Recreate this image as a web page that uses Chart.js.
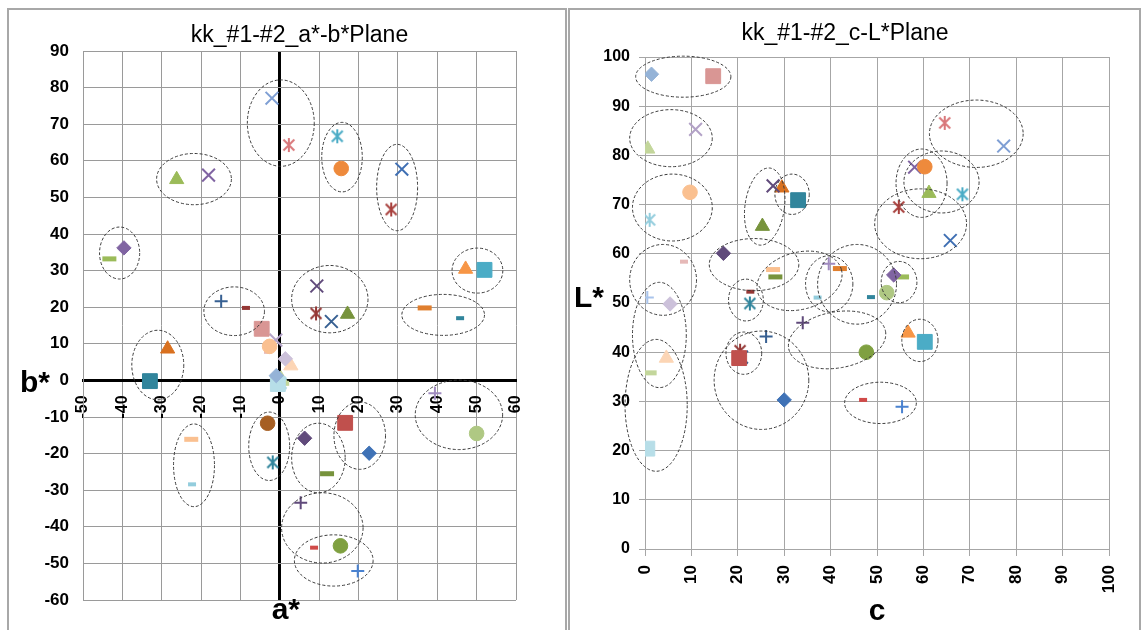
<!DOCTYPE html>
<html><head><meta charset="utf-8">
<script src="https://cdn.jsdelivr.net/npm/chart.js@4.4.1/dist/chart.umd.min.js"></script>
<style>
html,body{margin:0;padding:0;background:#fff;width:1142px;height:630px;overflow:hidden}
.panel{position:absolute;border:2px solid #a8a8a8;box-sizing:border-box}
#p1{left:7px;top:8px;width:560px;height:624px}
#p2{left:568px;top:8px;width:573px;height:624px}
.cv{position:absolute;top:0}
#c1{left:0}
#c2{left:569px}
</style></head><body>
<div class="panel" id="p1"></div><div class="panel" id="p2"></div>
<canvas class="cv" id="c1" width="566" height="630"></canvas>
<canvas class="cv" id="c2" width="571" height="630"></canvas>
<script>
// ---------- data (one point per sample) ----------
const seriesNames = ['P01','P02','P03','P04','P05','P06','P07','P08','P09','P10','P11','P12','P13','P14','P15','P16','P17','P18','P19','P20','P21','P22','P23','P24','P25','P26','P27','P28','P29','P30','P31','P32','P33','P34','P35','P36','P37','P38','P39','P40','P41','P42','P43','P44','P45','P46','P47','P48'];
const aStar = [-2.0, 2.3, 14.6, 15.6, 31.0, 28.3, -26.2, -18.1, -39.6, -43.3, 47.2, 52.0, 9.4, 9.2, 13.1, 17.2, 36.8, 45.8, -14.9, -8.6, -4.6, -2.6, -1.0, 1.4, 2.8, -0.9, -0.5, 0.3, 0.3, -0.2, 0.6, -3.0, -33.0, -28.5, -3.1, -1.8, 6.3, 16.6, 22.7, 12.0, -22.5, -22.3, 39.4, 50.0, 5.3, 8.7, 15.4, 19.8];
const bStar = [77.1, 64.3, 66.7, 57.9, 57.7, 46.7, 54.9, 56.1, 36.2, 33.2, 30.4, 30.2, 25.8, 18.3, 16.1, 18.1, 19.8, 17.0, 21.6, 19.8, 14.1, 9.3, 11.0, 5.9, 4.0, 1.3, -1.0, -0.8, 0.4, 0.4, -0.8, 7.8, -0.2, 8.6, -11.7, -22.4, -15.8, -11.6, -19.9, -25.5, -16.1, -28.4, -3.5, -14.5, -33.4, -45.7, -45.2, -52.1];
const chroma = [77.3, 64.6, 68.4, 60.3, 65.8, 54.7, 61.2, 58.1, 53.6, 55.4, 56.7, 60.3, 27.6, 20.5, 20.8, 25.3, 42.0, 48.7, 26.1, 22.7, 14.7, 9.7, 10.9, 5.4, 4.6, 1.4, 0.5, 1.0, 0.6, 0.5, 1.0, 8.4, 33.0, 29.5, null, 22.6, 16.9, 20.3, 30.0, 28.1, 27.6, 37.2, 39.6, 52.1, 34.0, 47.0, 47.7, 55.4];
const lightness = [81.9, 86.6, 72.1, 77.7, 62.7, 69.5, 72.3, 77.6, 55.7, 55.3, 43.9, 42.1, 73.8, 40.3, 39.0, 65.6, 57.0, 51.2, 43.2, 52.3, 96.1, 72.5, 85.3, 49.8, 38.8, 96.5, 20.4, 66.9, 81.3, 51.1, 35.8, 58.4, 70.9, 73.4, null, 49.9, 60.1, 38.8, 30.3, 55.3, 56.8, 51.1, 58.0, 52.1, 46.0, 30.3, 40.0, 28.9];

// marker styles (kept apart from the values)
const markerShape = ['X','star','star','circle','X','star','tri','X','diamond','dash','tri','rect','X','star','X','tri','dash','dashS','plus','dashS','rect','circle','X','diamond','tri','diamond','rect','star','tri','plus','dash','dashS','rect','tri','circle','star','diamond','rect','diamond','dash','dash','dashS','plus','circle','plus','dashS','circle','plus'];
const markerColor = ['#7F9FD4','#D9777A','#4BACC6','#EE8A3C','#3F6FB3','#A8403D','#9BBB59','#8064A2','#8064A2','#9BBB59','#F79646','#4BACC6','#604A7B','#953735','#376092','#77933C','#E07F2E','#31859C','#376092','#953735','#D99694','#FAC090','#B3A2C7','#CCC1DA','#FCD5B5','#95B3D7','#B7DEE8','#93CDDD','#C3D69B','#A9C4EB','#C3D69B','#E6B9B8','#31859C','#D9711F','#A65E22','#31859C','#604A7B','#C0504D','#3F72B6','#77933C','#FAC090','#93CDDD','#A08BC0','#AFC883','#604A7B','#D04A48','#7FA040','#4A82D0'];
const drawOnTop = ['P38'];

// group outlines (dashed ellipses) in data units: [centre x, centre y, radius x, radius y, tilt deg]
const groupsAB = [[0.25,70.3,8.5,11.8,0],[15.8,61,5.15,9.5,0],[29.8,52.7,5.2,11.8,0],[-21.8,55,9.5,7,0],[-40.7,34.8,5.1,7.1,0],[50.2,30,6.45,6.15,0],[41.5,17.9,10.5,5.6,0],[12.7,22.2,9.7,9.2,0],[-11.6,18.9,7.7,6.65,0],[-31,4.2,6.6,9.5,0],[45.5,-9.4,11.1,9.5,0],[-21.8,-23.2,5.2,11.3,0],[-2.7,-18,5.2,9.35,0],[20.3,-15.1,6.55,9.2,0],[9.8,-21.2,6.8,9.5,0],[10.8,-40.3,10.35,9.6,0],[13.7,-49.2,10,7,0]];
const groupsCL = [[8.25,96,10.26,4.17,0],[5.6,83.5,8.9,5.8,0],[5.9,69.4,8.6,6.8,0],[25.8,69.6,4.25,7.9,8],[31.7,72.1,3.7,4.1,0],[71.4,84.4,10.1,6.85,0],[59.6,74.35,5.5,6.95,0],[63.9,74.6,8.1,6.3,0],[59.4,66.1,9.9,7.1,0],[3.9,54.7,7.2,7.2,0],[3.1,43.5,5.8,10.7,0],[2.4,29.2,6.7,13.4,0],[23.5,57.8,9.65,5.3,0],[33.3,54.5,9.35,5.8,-15],[21.75,50.6,3.75,4.25,0],[39.7,53.9,5.1,5.7,0],[45.7,53.8,8.5,8.1,0],[54.75,54.25,3.85,4.2,0],[21.3,39.8,3.85,4.3,0],[25.1,34.3,10.2,10,0],[41.4,42.5,10.6,5.7,-10],[59.25,42.4,3.9,4.3,0],[50.75,29.7,7.73,4.2,0]];

const titleAB = 'kk_#1-#2_a*-b*Plane';
const titleCL = 'kk_#1-#2_c-L*Plane';

// ---------- rendering ----------
const FONT = "'Liberation Sans', Arial, sans-serif";
const SHAPES = {
  X:{style:'crossRot', r:9, bw:2},
  star:{style:'asterisk', r:7, bw:2},
  plus:{style:'cross', r:6.5, bw:2},
  circle:{style:'circle', r:7.3, bw:1},
  tri:{style:'triangle', r:8.2, bw:1},
  rect:{style:'rect', r:10.5, bw:1},
  diamond:{style:'rectRot', r:7.2, bw:1},
  dash:{style:'line', r:7, bw:5},
  dashS:{style:'line', r:4, bw:4}
};
// Excel-like six-spoke asterisk marker image
function asteriskImage(color, r, bw){
  const s = Math.ceil(2*r + bw + 2), c = s/2, d = r*0.78;
  const cv = document.createElement('canvas'); cv.width = s; cv.height = s;
  const g = cv.getContext('2d'); g.strokeStyle = color; g.lineWidth = bw;
  g.beginPath();
  g.moveTo(c, c-r); g.lineTo(c, c+r);
  g.moveTo(c-d, c-d); g.lineTo(c+d, c+d);
  g.moveTo(c+d, c-d); g.lineTo(c-d, c+d);
  g.stroke();
  return cv;
}
function buildSets(xv, yv){
  return seriesNames.map((name, i) => {
    const st = SHAPES[markerShape[i]];
    const ok = xv[i] !== null && yv[i] !== null;
    const style = st.style === 'asterisk' ? asteriskImage(markerColor[i], st.r, st.bw) : st.style;
    return {label:name, data: ok ? [{x:xv[i], y:yv[i]}] : [],
      order: drawOnTop.includes(name) ? -1 : 0,
      pointStyle:style, pointRadius:st.r, pointBorderWidth:st.bw,
      backgroundColor:markerColor[i], borderColor:markerColor[i], showLine:false};
  });
}
function ellipsePlugin(list){
  return {id:'groupEllipses', afterDatasetsDraw(chart){
    const ctx = chart.ctx, xs = chart.scales.x, ys = chart.scales.y;
    ctx.save(); ctx.setLineDash([3,2]); ctx.lineWidth = 1; ctx.strokeStyle = '#3a3a3a';
    list.forEach(e => {
      const cx = xs.getPixelForValue(e[0]), cy = ys.getPixelForValue(e[1]);
      const rx = Math.abs(xs.getPixelForValue(e[0]+e[2]) - cx);
      const ry = Math.abs(ys.getPixelForValue(e[1]+e[3]) - cy);
      ctx.beginPath(); ctx.ellipse(cx, cy, rx, ry, e[4]*Math.PI/180, 0, 2*Math.PI); ctx.stroke();
    });
    ctx.restore();
  }};
}
function axisTextPlugin(items){
  return {id:'axisText', afterDraw(chart){
    const ctx = chart.ctx; ctx.save();
    ctx.fillStyle = '#000'; ctx.textAlign = 'center'; ctx.textBaseline = 'middle';
    items.forEach(t => { ctx.font = t.font; const p = t.pos(chart); ctx.fillText(t.text, p[0], p[1]); });
    ctx.restore();
  }};
}
const tickFont = {family:FONT, size:17, weight:'bold'};
const zeroColor = c => (c.tick && c.tick.value === 0) ? '#000' : '#9a9a9a';
const zeroWidth = c => (c.tick && c.tick.value === 0) ? 3 : 1;

new Chart(document.getElementById('c1'), {
  type:'scatter',
  data:{datasets: buildSets(aStar, bStar)},
  options:{
    responsive:false, animation:false, events:[],
    layout:{padding:{top:0, left:0, right:50, bottom:30}},
    plugins:{
      legend:{display:false}, tooltip:{enabled:false},
      title:{display:true, text:titleAB, fullSize:false, color:'#000',
        font:{family:FONT, size:23, weight:'normal'}, padding:{top:22, bottom:1.4}}
    },
    scales:{
      x:{type:'linear', position:{y:0}, min:-50, max:60,
        ticks:{stepSize:10, minRotation:90, maxRotation:90, autoSkip:false, padding:15, color:'#000', font:{family:FONT, size:16, weight:'bold'}},
        grid:{color:zeroColor, lineWidth:zeroWidth, drawTicks:false},
        border:{display:true, color:'#000', width:3}},
      y:{type:'linear', position:'left', min:-60, max:90,
        ticks:{stepSize:10, padding:14, color:'#000', font:tickFont},
        grid:{color:zeroColor, lineWidth:1, drawTicks:false},
        border:{display:true, color:'#9a9a9a', width:1},
        afterFit:s => { s.width = 83; }}
    }
  },
  plugins:[ellipsePlugin(groupsAB), axisTextPlugin([
    {text:'b*', font:"bold 30px " + FONT, pos:ch => [35, ch.scales.y.getPixelForValue(0) + 3]},
    {text:'a*', font:"bold 30px " + FONT, pos:ch => [ch.scales.x.getPixelForValue(0) + 6, 611]}
  ])]
});

new Chart(document.getElementById('c2'), {
  type:'scatter',
  data:{datasets: buildSets(chroma, lightness)},
  options:{
    responsive:false, animation:false, events:[],
    layout:{padding:{top:0, left:12, right:31, bottom:0}},
    plugins:{
      legend:{display:false}, tooltip:{enabled:false},
      title:{display:true, text:titleCL, color:'#000',
        font:{family:FONT, size:23, weight:'normal'}, padding:{top:20, bottom:9.4}}
    },
    scales:{
      x:{type:'linear', position:'bottom', min:0, max:100,
        ticks:{stepSize:10, minRotation:90, maxRotation:90, autoSkip:false, padding:9, color:'#000', font:{family:FONT, size:17, weight:'bold'}},
        grid:{color:'#a6a6a6', lineWidth:1, tickLength:7},
        border:{display:true, color:'#a6a6a6', width:1},
        title:{display:true, text:'c', color:'#000', font:{family:FONT, size:30, weight:'bold'}, padding:0},
        afterFit:s => { s.height = 81; }},
      y:{type:'linear', position:'left', min:0, max:100,
        ticks:{stepSize:10, padding:9, color:'#000', font:{family:FONT, size:16, weight:'bold'}},
        grid:{color:'#a6a6a6', lineWidth:1, tickLength:6},
        border:{display:true, color:'#a6a6a6', width:1},
        afterFit:s => { s.width = 64; }}
    }
  },
  plugins:[ellipsePlugin(groupsCL), axisTextPlugin([
    {text:'L*', font:"bold 30px " + FONT, pos:ch => [20, (ch.chartArea.top + ch.chartArea.bottom)/2 - 4]}
  ])]
});
</script>
</body></html>
